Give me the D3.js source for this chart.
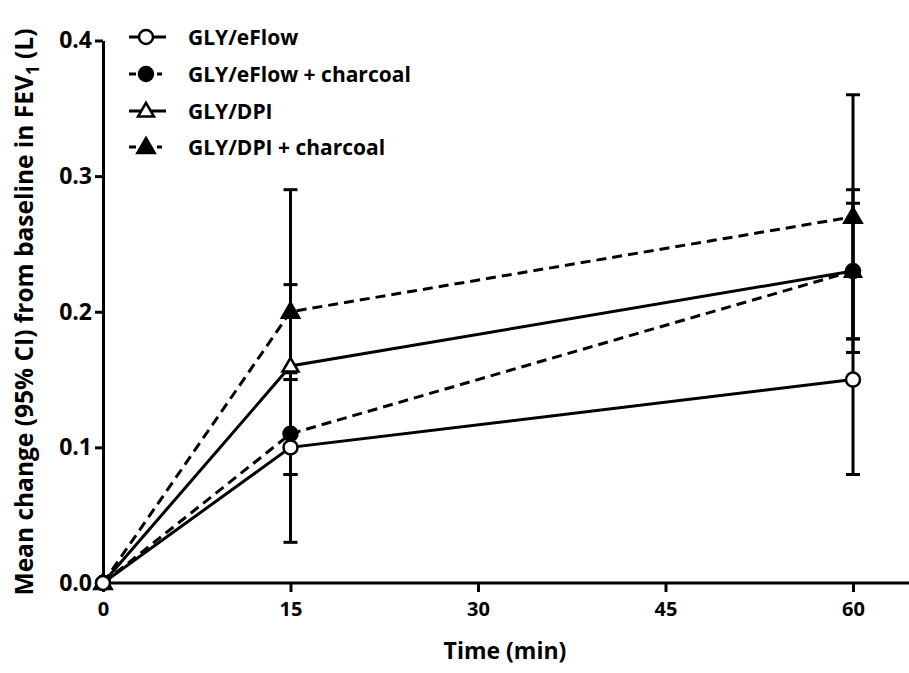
<!DOCTYPE html>
<html>
<head>
<meta charset="utf-8">
<script src="https://cdn.jsdelivr.net/npm/d3@7"></script>
<style>
  body { margin: 0; background: #fff; }
  svg { font-family: "Open Sans", Lato, sans-serif; font-weight: 700; }
</style>
</head>
<body>
<svg id="chart" width="909" height="673"></svg>
<script>
// time points (min)
var times = [0, 15, 60];
var xTicks = [0, 15, 30, 45, 60];
var yTicks = [0, 0.1, 0.2, 0.3, 0.4];

var seriesNames = ["GLY/eFlow", "GLY/eFlow + charcoal", "GLY/DPI", "GLY/DPI + charcoal"];

// mean change and 95% CI
var eflowMean = [0, 0.10, 0.15];
var eflowLo = [0, 0.03, 0.08];
var eflowHi = [0, 0.15, 0.23];

var eflowCharMean = [0, 0.11, 0.23];
var eflowCharLo = [0, 0.08, 0.17];
var eflowCharHi = [0, 0.155, 0.29];

var dpiMean = [0, 0.16, 0.23];
var dpiLo = [0, 0.08, 0.18];
var dpiHi = [0, 0.22, 0.28];

var dpiCharMean = [0, 0.20, 0.27];
var dpiCharLo = [0, 0.15, 0.18];
var dpiCharHi = [0, 0.29, 0.36];

var series = [
  {name: seriesNames[0], mean: eflowMean, lo: eflowLo, hi: eflowHi, shape: "circle", open: true, dashed: false},
  {name: seriesNames[1], mean: eflowCharMean, lo: eflowCharLo, hi: eflowCharHi, shape: "circle", open: false, dashed: true},
  {name: seriesNames[2], mean: dpiMean, lo: dpiLo, hi: dpiHi, shape: "triangle", open: true, dashed: false},
  {name: seriesNames[3], mean: dpiCharMean, lo: dpiCharLo, hi: dpiCharHi, shape: "triangle", open: false, dashed: true}
];

var W = 909, H = 673;
var svg = d3.select("#chart");

var x = d3.scaleLinear().domain([0, 60]).range([103, 853]);
var y = d3.scaleLinear().domain([0, 0.4]).range([583, 40.5]);

// axes
var yAxis = svg.append("g")
  .attr("transform", "translate(" + x(0) + ",0)")
  .call(d3.axisLeft(y).tickValues(yTicks).tickFormat(d3.format(".1f")).tickSize(8).tickSizeOuter(0).tickPadding(3))
yAxis.select(".domain").attr("stroke-width", 3)
yAxis.selectAll(".tick line").attr("stroke-width", 3)
yAxis.selectAll(".tick text").attr("font-size", 23).attr("font-weight", 700).attr("font-family", "Open Sans").attr("fill", "#000")

var xAxis = svg.append("g")
  .attr("transform", "translate(0," + y(0) + ")")
  .call(d3.axisBottom(x).tickValues(xTicks).tickSize(9).tickSizeOuter(0).tickPadding(10))
xAxis.select(".domain").remove()
xAxis.append("line").attr("x1", x(0)).attr("x2", W).attr("stroke", "#000").attr("stroke-width", 3)
xAxis.selectAll(".tick line").attr("stroke-width", 3)
xAxis.selectAll(".tick text").attr("font-size", 20).attr("font-weight", 700).attr("font-family", "Open Sans").attr("fill", "#000")

// axis titles
svg.append("text")
  .attr("x", 505).attr("y", 659)
  .attr("text-anchor", "middle")
  .attr("font-size", 23)
  .text("Time (min)")

var yTitle = svg.append("text")
  .attr("transform", "translate(33,312) rotate(-90)")
  .attr("text-anchor", "middle")
  .attr("font-size", 24.5)
yTitle.append("tspan").text("Mean change (95% CI) from baseline in FEV")
yTitle.append("tspan").attr("font-size", 17).attr("dy", 6).text("1")
yTitle.append("tspan").attr("dy", -6).text(" (L)")

var line = d3.line().x(function(d, i) { return x(times[i]); }).y(function(d) { return y(d); });

function marker(g, s, cx, cy) {
  var fill = s.open ? "#fff" : "#000";
  if (s.shape == "circle") {
    g.append("circle").attr("cx", cx).attr("cy", cy).attr("r", 7)
      .attr("fill", fill).attr("stroke", "#000").attr("stroke-width", 2.5)
  } else {
    g.append("path")
      .attr("d", d3.symbol().type(d3.symbolTriangle).size(s.open ? 110 : 130)())
      .attr("transform", "translate(" + cx + "," + (cy + 1) + ")")
      .attr("fill", fill).attr("stroke", "#000").attr("stroke-width", 2.5)
  }
}

// connecting lines
series.forEach(function(s) {
  svg.append("path")
    .attr("d", line(s.mean))
    .attr("fill", "none").attr("stroke", "#000").attr("stroke-width", 3)
    .attr("stroke-dasharray", s.dashed ? "10,6" : null)
})

// error bars (only after baseline)
var eb = svg.append("g").attr("stroke", "#000").attr("stroke-width", 3)
series.forEach(function(s) {
  times.forEach(function(t, i) {
    if (t == 0) return;
    var cx = x(t);
    eb.append("line").attr("x1", cx).attr("x2", cx).attr("y1", y(s.lo[i])).attr("y2", y(s.hi[i]))
    eb.append("line").attr("x1", cx - 7).attr("x2", cx + 7).attr("y1", y(s.lo[i])).attr("y2", y(s.lo[i]))
    eb.append("line").attr("x1", cx - 7).attr("x2", cx + 7).attr("y1", y(s.hi[i])).attr("y2", y(s.hi[i]))
  })
})

// markers, last series first so the open circle ends on top
var mk = svg.append("g")
series.slice().reverse().forEach(function(s) {
  s.mean.forEach(function(v, i) { marker(mk, s, x(times[i]), y(v)); })
})

// legend
var legendY = [37, 74, 111, 147];
series.forEach(function(s, i) {
  var g = svg.append("g").attr("transform", "translate(0," + legendY[i] + ")")
  g.append("line").attr("x1", 129).attr("x2", s.dashed ? 162 : 166).attr("y1", 0).attr("y2", 0)
    .attr("stroke", "#000").attr("stroke-width", 3)
    .attr("stroke-dasharray", s.dashed ? "7,7" : null)
  marker(g, s, 146, 0)
  g.append("text").attr("x", 188).attr("y", 7.5).attr("font-size", 21).text(s.name)
})
</script>
</body>
</html>
